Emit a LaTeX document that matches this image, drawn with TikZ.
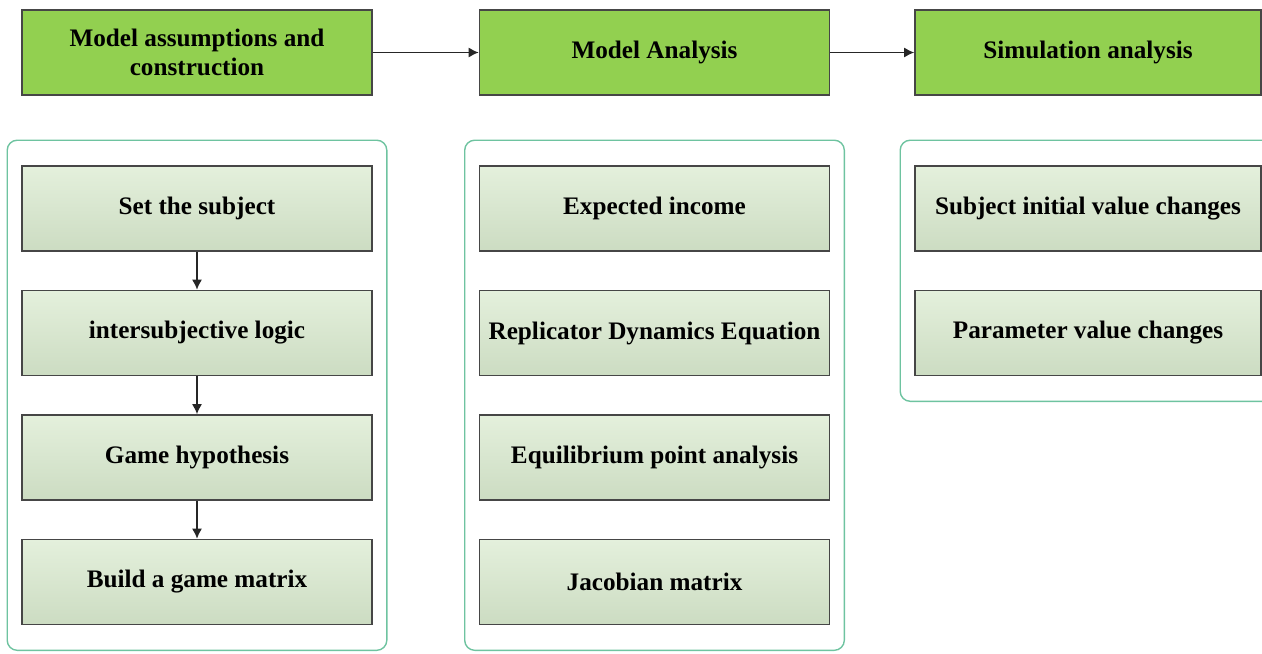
\documentclass[tikz,border=0pt]{standalone}
\usepackage{fontspec}
\setmainfont{Liberation Serif}
\usepackage{tikz}
\usetikzlibrary{arrows.meta,positioning,fit}

\definecolor{headgreen}{RGB}{146,208,80}
\definecolor{stepgreenT}{RGB}{228,240,220}
\definecolor{stepgreenB}{RGB}{204,220,194}
\definecolor{groupline}{RGB}{110,195,160}
\definecolor{edgegray}{RGB}{70,70,70}

\tikzset{
  headbox/.style={draw=edgegray, fill=headgreen, line width=0.8pt, inner sep=0pt,
    minimum width=175pt, minimum height=42.5pt, align=center,
    font=\bfseries\fontsize{12.6}{14.5}\selectfont},
  stepbox/.style={draw=edgegray, top color=stepgreenT, bottom color=stepgreenB,
    line width=0.8pt, inner sep=0pt, minimum width=175pt, minimum height=42.5pt,
    align=center, font=\bfseries\fontsize{12.6}{14.5}\selectfont},
  groupbox/.style={draw=groupline, line width=0.7pt, rounded corners=5pt,
    inner xsep=7pt, inner ysep=12.5pt},
  flow/.style={draw=black!85, line width=0.7pt, -{Latex[length=5pt,width=5pt]}}
}

\begin{document}
\begin{tikzpicture}[x=0.5pt,y=-0.5pt]
  \useasboundingbox (0,0) rectangle (1262,653);
  % stages on top
  \node[headbox] (assume) at (197,52.5) {Model assumptions and\\construction};
  \node[headbox] (analysis) at (654.5,52.5) {Model Analysis};
  \node[headbox, minimum width=173pt] (simul) at (1088,52.5) {Simulation analysis};
  \draw[flow] (assume) -- (analysis);
  \draw[flow] (analysis) -- (simul);
  % left column
  \node[stepbox] (subject) at (197,208.5) {Set the subject};
  \node[stepbox] (logic) at (197,333) {intersubjective logic};
  \node[stepbox] (hypo) at (197,457.5) {Game hypothesis};
  \node[stepbox] (matrix) at (197,582) {Build a game matrix};
  \draw[flow] (subject) -- (logic);
  \draw[flow] (logic) -- (hypo);
  \draw[flow] (hypo) -- (matrix);
  % middle column
  \node[stepbox] (income) at (654.5,208.5) {Expected income};
  \node[stepbox] (replic) at (654.5,333) {Replicator Dynamics Equation};
  \node[stepbox] (equil) at (654.5,457.5) {Equilibrium point analysis};
  \node[stepbox] (jacob) at (654.5,582) {Jacobian matrix};
  % right column
  \node[stepbox, minimum width=173pt] (initval) at (1088,208.5) {Subject initial value changes};
  \node[stepbox, minimum width=173pt] (paramval) at (1088,333) {Parameter value changes};
  % group frames
  \node[groupbox, fit=(subject)(matrix)] (leftgroup) {};
  \node[groupbox, fit=(income)(jacob)] (midgroup) {};
  \node[groupbox, fit=(initval)(paramval)] (rightgroup) {};
\end{tikzpicture}
\end{document}
